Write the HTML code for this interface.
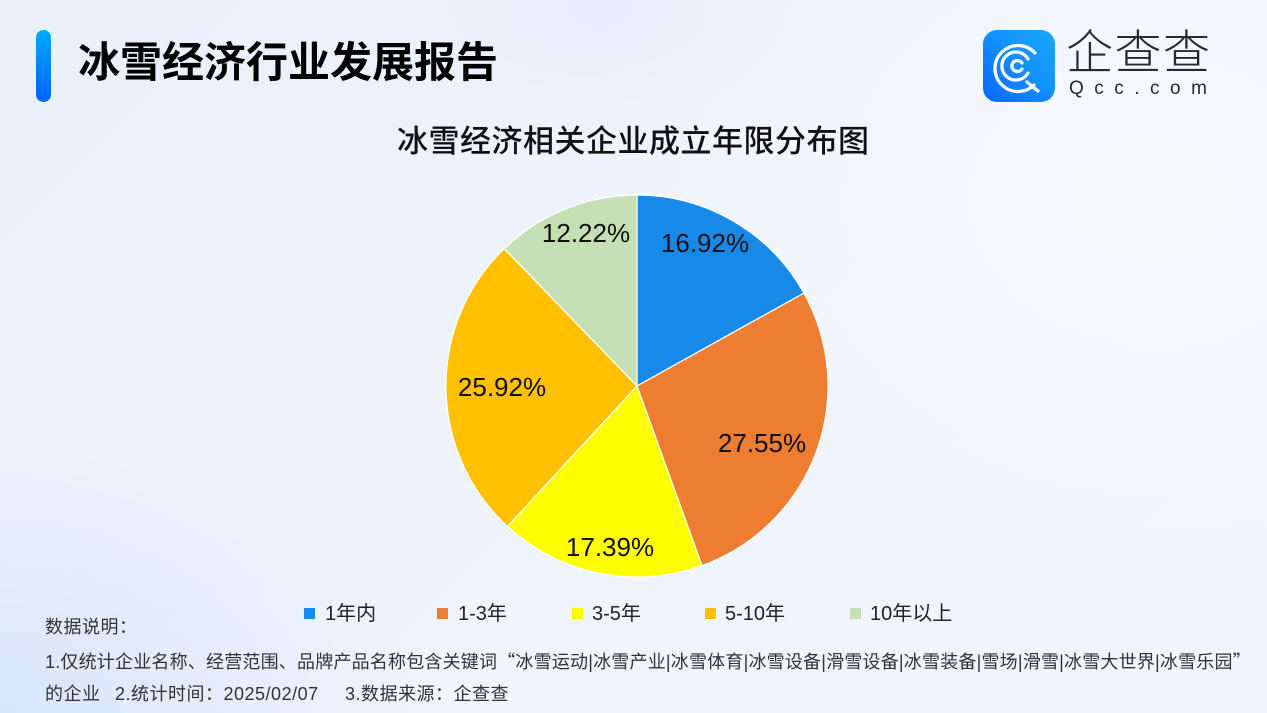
<!DOCTYPE html>
<html><head><meta charset="utf-8">
<style>
html,body{margin:0;padding:0;}
body{width:1267px;height:713px;position:relative;overflow:hidden;
background:
radial-gradient(ellipse 200px 110px at 600px 10px, rgba(226,234,249,0.6), rgba(226,234,249,0) 100%),
radial-gradient(ellipse 420px 260px at 0px 713px, rgba(214,228,250,0.9), rgba(214,228,250,0) 100%),
radial-gradient(ellipse 500px 400px at 1150px 200px, rgba(248,250,254,0.9), rgba(248,250,254,0) 100%),
linear-gradient(135deg,#e9eff9 0%,#eff3fc 45%,#f2f5fd 100%);
font-family:"Liberation Sans","Noto Sans CJK SC",sans-serif;color:#222;}
.abs{position:absolute;white-space:nowrap;}
.bar{left:36px;top:30px;width:15px;height:72px;border-radius:8px;background:linear-gradient(#00a8ff,#0064ff);}
.h1{left:78px;top:38px;font-size:42px;line-height:50px;font-weight:bold;color:#000;font-family:"Liberation Sans","Noto Sans CJK SC",sans-serif;}
.sub{left:397px;top:122px;font-size:31px;line-height:40px;letter-spacing:0.5px;color:#111;font-weight:500;}
.logo{left:983px;top:30px;width:72px;height:72px;border-radius:14px;background:linear-gradient(45deg,#0a66ff 0%,#1292ff 55%,#1aa8fb 100%);}
.qcc{left:1066px;top:26px;font-size:47px;line-height:54px;color:#2a2a2a;letter-spacing:1.5px;font-weight:300;}
.dom{left:1069px;top:78px;font-size:19px;line-height:22px;color:#2a2a2a;letter-spacing:10.5px;}
.lg{font-size:20px;line-height:24px;top:602px;color:#222;}
.sq{width:11px;height:11px;top:608px;}
.ft{font-size:18px;line-height:22px;color:#333;letter-spacing:0.5px;}
.cq{font-family:"Noto Sans CJK SC",sans-serif;}
</style></head><body>
<div class="abs bar"></div>
<div class="abs h1">冰雪经济行业发展报告</div>
<div class="abs logo"></div>
<svg class="abs" style="left:983px;top:30px" width="72" height="72" viewBox="0 0 72 72">
  <g fill="none" stroke="#fff" stroke-width="3.2" stroke-linecap="round">
    <path d="M 52 23 A 23 23 0 1 0 51 55"/>
    <path d="M 45 29 A 14 14 0 1 0 45 43"/>
    <path d="M 39 33 A 5.5 5.5 0 1 0 39 39"/>
    <path d="M 44 52 L 55 61"/>
  </g>
</svg>
<div class="abs qcc">企查查</div>
<div class="abs dom">Qcc.com</div>
<div class="abs sub">冰雪经济相关企业成立年限分布图</div>

<svg class="abs" style="left:0;top:0" width="1267" height="713" viewBox="0 0 1267 713">
  <g stroke="#ffffff" stroke-width="1.2" stroke-linejoin="round">
    <path d="M637 386 L637 195 A191 191 0 0 1 803.9 293.1 Z" fill="#1789e8"/>
    <path d="M637 386 L803.9 293.1 A191 191 0 0 1 702.0 565.6 Z" fill="#ed7d31"/>
    <path d="M637 386 L702.0 565.6 A191 191 0 0 1 507.5 526.4 Z" fill="#ffff00"/>
    <path d="M637 386 L507.5 526.4 A191 191 0 0 1 504.3 248.6 Z" fill="#ffc000"/>
    <path d="M637 386 L504.3 248.6 A191 191 0 0 1 637 195 Z" fill="#c5e0b4"/>
  </g>
  <g font-family="Liberation Sans, sans-serif" font-size="26" fill="#111" text-anchor="middle">
    <text x="705" y="252">16.92%</text>
    <text x="762" y="452">27.55%</text>
    <text x="610" y="556">17.39%</text>
    <text x="502" y="396">25.92%</text>
    <text x="586" y="242">12.22%</text>
  </g>
</svg>

<div class="abs sq" style="left:304px;background:#1789e8"></div>
<div class="abs lg" style="left:325px">1年内</div>
<div class="abs sq" style="left:437px;background:#ed7d31"></div>
<div class="abs lg" style="left:458px">1-3年</div>
<div class="abs sq" style="left:572px;background:#ffff00"></div>
<div class="abs lg" style="left:592px">3-5年</div>
<div class="abs sq" style="left:705px;background:#ffc000"></div>
<div class="abs lg" style="left:725px">5-10年</div>
<div class="abs sq" style="left:850px;background:#c5e0b4"></div>
<div class="abs lg" style="left:870px">10年以上</div>

<div class="abs ft" style="left:45px;top:616px">数据说明：</div>
<div class="abs ft" style="left:45px;top:650px;letter-spacing:0.2px">1.仅统计企业名称、经营范围、品牌产品名称包含关键词<span class="cq">“</span>冰雪运动|冰雪产业|冰雪体育|冰雪设备|滑雪设备|冰雪装备|雪场|滑雪|冰雪大世界|冰雪乐园<span class="cq">”</span></div>
<div class="abs ft" style="left:45px;top:683px">的企业</div>
<div class="abs ft" style="left:115px;top:683px">2.统计时间：2025/02/07</div>
<div class="abs ft" style="left:345px;top:683px">3.数据来源：企查查</div>
</body></html>
